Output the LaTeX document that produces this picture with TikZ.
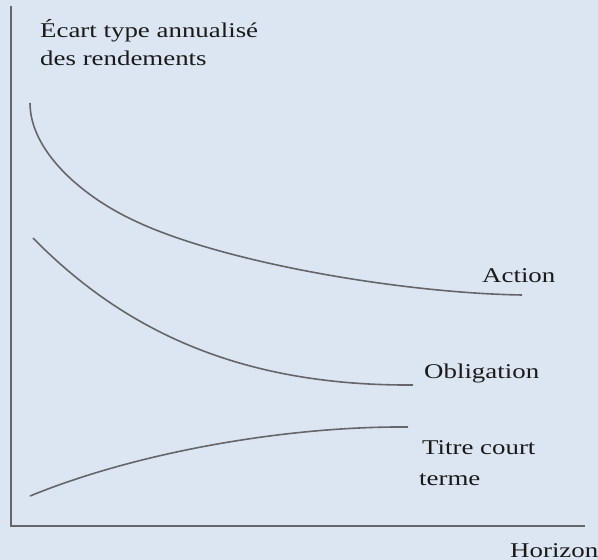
\documentclass[tikz,border=0pt]{standalone}
\usepackage{fontspec}
\setmainfont{Liberation Serif}
\definecolor{bgc}{HTML}{DCE6F2}
\definecolor{linec}{HTML}{66666A}
\definecolor{txtc}{HTML}{1A1A1A}
\newcommand{\wide}[1]{\scalebox{1.28}[1]{#1}}
\begin{document}
\begin{tikzpicture}[x=1pt,y=-1pt,
  curve/.style={draw=linec,line width=1.6pt},
  axis/.style={draw=linec,line width=1.8pt},
  lbl/.style={anchor=base west,inner sep=0pt,text=txtc,font=\fontsize{21}{28}\selectfont}]
\fill[bgc] (0,0) rectangle (598,560);
\useasboundingbox (0,0) rectangle (598,560);
\coordinate (top) at (11,6);
\coordinate (origin) at (11,526);
\coordinate (right) at (585,526);
\draw[axis] (top) -- (origin) -- (right);
\draw[curve] (30,103) .. controls (30,150) and (80,195) .. (133,220) .. controls (220,262) and (400,293) .. (522,295);
\draw[curve] (33,238) .. controls (130,337) and (250,386) .. (413,385);
\draw[curve] (30,496) .. controls (140,451) and (290,426) .. (408,427);
\node[lbl] (ylab1) at (40,37) {\wide{Écart type annualisé}};
\node[lbl] (ylab2) at (40,65) {\wide{des rendements}};
\node[lbl] (action) at (482,282) {\wide{Action}};
\node[lbl] (oblig) at (424,378) {\wide{Obligation}};
\node[lbl] (titre1) at (422,454) {\wide{Titre court}};
\node[lbl] (titre2) at (419,485) {\wide{terme}};
\node[lbl] (horizon) at (510,557) {\wide{Horizon}};
\end{tikzpicture}
\end{document}
